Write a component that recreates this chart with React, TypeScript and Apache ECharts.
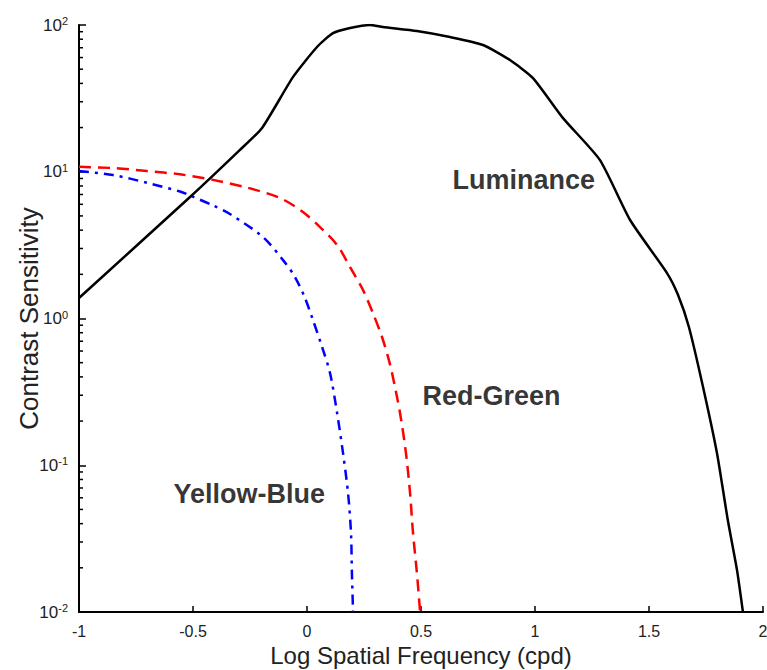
import React, { useEffect, useRef } from "react";
import * as echarts from "echarts";

// Luminance (black, solid)
const lumX = [-1, -0.513, -0.294, -0.197, -0.061, 0.044, 0.114, 0.189, 0.276, 0.333, 0.482, 0.627, 0.772, 0.89, 0.991, 1.123, 1.285, 1.417, 1.579, 1.627, 1.675, 1.737, 1.798, 1.846, 1.886, 1.912];
const lumY = [1.38, 6.73, 14.1, 19.9, 44.3, 70.8, 88, 95.4, 100, 96.9, 91, 82.8, 73.1, 57.7, 43.5, 23.2, 12.0, 4.69, 2.04, 1.45, 0.875, 0.341, 0.121, 0.042, 0.0193, 0.01];

// Red-Green (red, dashed)
const rgX = [-1, -0.851, -0.702, -0.557, -0.412, -0.263, -0.118, -0.018, 0.057, 0.132, 0.189, 0.246, 0.289, 0.329, 0.355, 0.373, 0.408, 0.434, 0.452, 0.465, 0.482, 0.496];
const rgY = [10.8, 10.6, 10.1, 9.6, 8.8, 7.8, 6.62, 5.32, 4.2, 3.17, 2.24, 1.56, 1.09, 0.748, 0.55, 0.425, 0.227, 0.121, 0.0647, 0.0345, 0.0185, 0.01];

// Yellow-Blue (blue, dash-dot)
const ybX = [-1, -0.851, -0.702, -0.557, -0.513, -0.412, -0.338, -0.193, -0.105, -0.053, -0.009, 0.026, 0.066, 0.101, 0.132, 0.158, 0.18, 0.193, 0.197, 0.202];
const ybY = [10.1, 9.5, 8.41, 7.33, 6.89, 5.89, 5.15, 3.59, 2.5, 1.92, 1.38, 0.977, 0.64, 0.425, 0.227, 0.121, 0.0647, 0.0345, 0.0185, 0.01];

// Annotation labels (anchored in data coordinates)
const annTexts = ["Luminance", "Red-Green", "Yellow-Blue"];
const annX = [0.636, 0.504, -0.588];
const annY = [8.8, 0.296, 0.0637];

// Axis settings
const xMin = -1;
const xMax = 2;
const xStep = 0.5;
const yMin = 0.01;
const yMax = 100;
const decades = [0.01, 0.1, 1, 10];
const minorMultipliers = [2, 3, 4, 5, 6, 7, 8, 9];

const zip = (xs: number[], ys: number[]) => xs.map((x, i) => [x, ys[i]]);

export default function App() {
  const ref = useRef<HTMLDivElement>(null);

  useEffect(() => {
    if (!ref.current) return;
    const chart = echarts.init(ref.current, undefined, { renderer: "svg" });
    const font = "Liberation Sans, Arial, sans-serif";
    const minorTicks: number[][] = [];
    decades.forEach((d) => minorMultipliers.forEach((m) => minorTicks.push([xMin, d * m])));

    chart.setOption({
      animation: false,
      backgroundColor: "#ffffff",
      grid: { left: 79, right: 4, top: 25, bottom: 58, containLabel: false, outerBoundsMode: "none" },
      xAxis: {
        type: "value",
        min: xMin,
        max: xMax,
        interval: xStep,
        name: "Log Spatial Frequency (cpd)",
        nameLocation: "middle",
        nameGap: 31,
        nameMoveOverlap: false,
        nameTextStyle: { fontSize: 24, color: "#222", fontFamily: font },
        axisLine: { show: true, onZero: false, lineStyle: { color: "#000", width: 2 } },
        axisTick: { show: true, inside: true, length: 6, lineStyle: { color: "#000", width: 1.5 } },
        axisLabel: { fontSize: 16, color: "#222", margin: 11, fontFamily: font, showMaxLabel: true, showMinLabel: true },
        splitLine: { show: false },
      },
      yAxis: {
        type: "log",
        logBase: 10,
        min: yMin,
        max: yMax,
        name: "Contrast Sensitivity",
        nameLocation: "middle",
        nameGap: 37,
        nameMoveOverlap: false,
        nameRotate: 90,
        nameTextStyle: { fontSize: 26, color: "#222", fontFamily: font },
        axisLine: { show: true, onZero: false, lineStyle: { color: "#000", width: 2 } },
        axisTick: { show: true, inside: true, length: 7, lineStyle: { color: "#000", width: 1.5 } },
        axisLabel: {
          color: "#222",
          margin: 11,
          fontFamily: font,
          formatter: (v: number) => `{b|10}{s|${Math.round(Math.log10(v))}}`,
          rich: {
            b: { fontSize: 17, color: "#222", fontFamily: font },
            s: { fontSize: 11, color: "#222", fontFamily: font, verticalAlign: "top", padding: [0, 0, 8, 0] },
          },
        },
        splitLine: { show: false },
      },
      series: [
        {
          type: "line",
          data: zip(lumX, lumY),
          showSymbol: false,
          symbol: "none",
          smooth: 0.2,
          lineStyle: { color: "#000", width: 2.5 },
          z: 3,
        },
        {
          type: "line",
          data: zip(rgX, rgY),
          showSymbol: false,
          symbol: "none",
          smooth: 0.3,
          lineStyle: { color: "#ff0000", width: 2.5, type: [12, 7] },
          z: 2,
        },
        {
          type: "line",
          data: zip(ybX, ybY),
          showSymbol: false,
          symbol: "none",
          smooth: 0.3,
          lineStyle: { color: "#0000ff", width: 2.5, type: [10, 6, 3, 6] },
          z: 2,
        },
        {
          type: "custom",
          silent: true,
          data: minorTicks,
          renderItem: (_params: any, api: any) => {
            const p = api.coord([api.value(0), api.value(1)]);
            return {
              type: "line",
              shape: { x1: p[0], y1: p[1], x2: p[0] + 4, y2: p[1] },
              style: { stroke: "#000", lineWidth: 1.5 },
            };
          },
          z: 4,
        },
        {
          type: "scatter",
          silent: true,
          symbolSize: 1,
          itemStyle: { color: "rgba(0,0,0,0)" },
          data: annTexts.map((t, i) => ({ value: [annX[i], annY[i]], label: { formatter: t } })),
          label: {
            show: true,
            position: "right",
            distance: 0,
            fontSize: 27,
            fontWeight: "bold",
            color: "#000",
            fontFamily: font,
          },
          z: 5,
        },
      ],
    });
    return () => chart.dispose();
  }, []);

  return (
    <div
      ref={ref}
      style={{ position: "fixed", left: 0, top: 0, width: 767, height: 670, background: "#fff" }}
    />
  );
}
